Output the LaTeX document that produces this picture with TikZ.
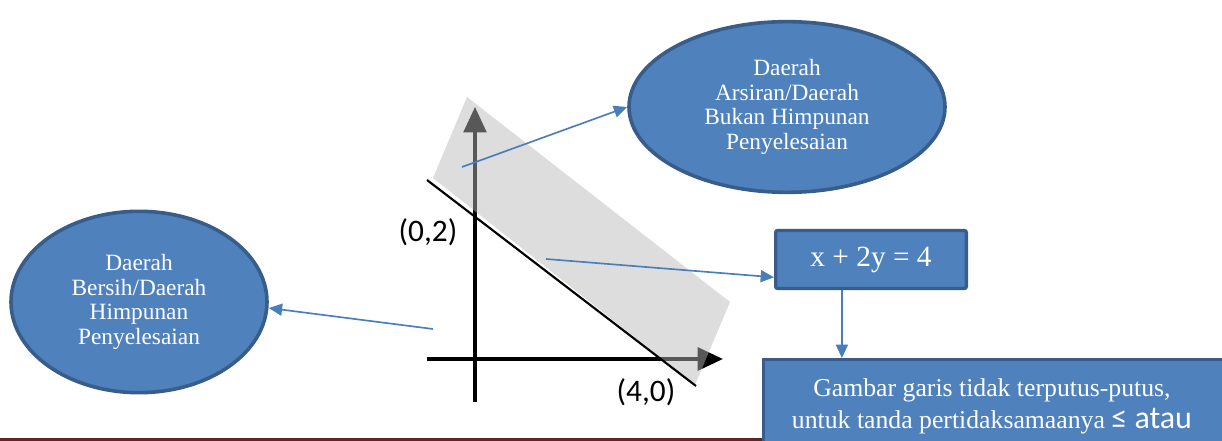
\documentclass[tikz,border=0pt]{standalone}
\usepackage{fontspec}
\setmainfont{Liberation Serif}
\newfontfamily\calib{Carlito}
\usetikzlibrary{shapes.geometric,arrows.meta,calc}
\definecolor{bfill}{HTML}{4F81BD}
\definecolor{bdraw}{HTML}{385D8A}
\definecolor{conn}{HTML}{4A7EBB}
\definecolor{maroon}{HTML}{632423}
\tikzset{
  bubble/.style={ellipse, fill=bfill, draw=bdraw, line width=2.7pt, text=white, align=center, inner sep=0pt, font=\fontsize{17.5}{18.5}\selectfont},
  bluebox/.style={rectangle, fill=bfill, draw=bdraw, line width=2.5pt, text=white, align=center, rounded corners=1.5pt},
  connector/.style={draw=conn, line width=1.25pt, -{Triangle[length=10pt,width=9pt]}},
  axis/.style={line width=2.4pt, -{Triangle[length=19pt,width=17pt]}},
}
\begin{document}
\begin{tikzpicture}[x=0.75pt,y=-0.75pt]
\useasboundingbox (0,0) rectangle (1222,441);
\clip (0,0) rectangle (1222,441);
% bottom maroon rule
\fill[maroon] (0,438) rectangle (770,442);
% axes
\coordinate (yb) at (475,402);
\coordinate (yt) at (475,107);
\coordinate (xl) at (427,359);
\coordinate (xr) at (723,359);
\draw[axis] (yb) -- (yt);
\draw[axis, line width=3pt] (xl) -- (xr);
% shaded band
\fill[fill={rgb,1:red,0.72;green,0.72;blue,0.72}, fill opacity=0.48] (467,97) -- (730,302) -- (695,385) -- (433,178) -- cycle;
% line x+2y=4
\coordinate (la) at (427,180);
\coordinate (lb) at (696,386);
\draw[line width=1.6pt] (la) -- (lb);
% labels
\node[font=\calib\fontsize{23.5}{26}\selectfont, inner sep=0pt] (p02) at (428,232) {(0,2)};
\node[font=\calib\fontsize{23.5}{26}\selectfont, inner sep=0pt] (p40) at (646,392) {(4,0)};
% bubbles and boxes
\node[bubble, minimum width=192pt, minimum height=136pt] (left) at (139,302) {Daerah\\Bersih/Daerah\\Himpunan\\Penyelesaian};
\node[bubble, minimum width=237pt, minimum height=128pt] (top) at (787,107) {Daerah\\Arsiran/Daerah\\Bukan Himpunan\\Penyelesaian};
\node[bluebox, minimum width=143pt, minimum height=43.5pt, font=\fontsize{22}{24}\selectfont] (eq) at (871,259.5) {x + 2y = 4};
\node[bluebox, rounded corners=0pt, minimum width=346pt, minimum height=73pt, anchor=north west] (bot) at (762,358) {};
\node[text=white, font=\fontsize{19.3}{24}\selectfont, align=center, inner sep=0pt] (bottxt) at (992,406) {Gambar garis tidak terputus-putus,\\untuk tanda pertidaksamaanya {\calib\fontsize{24}{24}\selectfont ≤ atau}};
% connectors
\coordinate (s1) at (462,167);
\coordinate (s2) at (546,259);
\coordinate (s3) at (433,329);
\draw[connector] (s1) -- (top.west);
\draw[connector] (s2) -- ($(eq.west)!0.58!(eq.south west)$);
\draw[connector] (s3) -- ([yshift=-4.5pt]left.east);
\coordinate (e1) at ($(eq.south west)!0.35!(eq.south east)$);
\draw[connector] (e1) -- (e1 |- bot.north);
\end{tikzpicture}
\end{document}
